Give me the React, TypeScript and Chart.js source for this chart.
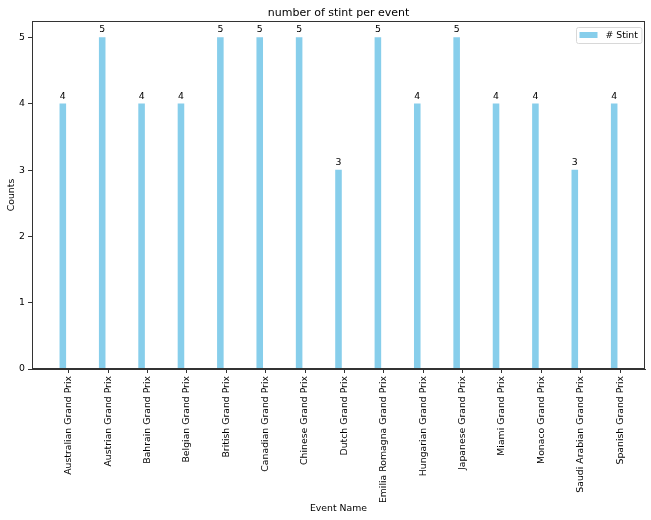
import React, { useEffect, useRef } from "react";
import { Chart, registerables } from "chart.js";

Chart.register(...registerables);

const categories = [
  "Australian Grand Prix",
  "Austrian Grand Prix",
  "Bahrain Grand Prix",
  "Belgian Grand Prix",
  "British Grand Prix",
  "Canadian Grand Prix",
  "Chinese Grand Prix",
  "Dutch Grand Prix",
  "Emilia Romagna Grand Prix",
  "Hungarian Grand Prix",
  "Japanese Grand Prix",
  "Miami Grand Prix",
  "Monaco Grand Prix",
  "Saudi Arabian Grand Prix",
  "Spanish Grand Prix",
];
const stintCounts = [4, 5, 4, 4, 5, 5, 5, 3, 5, 4, 5, 4, 4, 3, 4];
const yTicks = [0, 1, 2, 3, 4, 5];

const seriesLabel = "# Stint";
const chartTitle = "number of stint per event";
const xTitle = "Event Name";
const yTitle = "Counts";

const FONT = "'DejaVu Sans', sans-serif";
const FS = 9.3;
const BAR_COLOR = "#87CEEB";
const BAR_WIDTH_UNITS = 0.15;
const BAR_OFFSET = -0.15;

const framePlugin = {
  id: "frame",
  afterDatasetsDraw(chart: any) {
    const { ctx, chartArea } = chart;
    ctx.save();
    ctx.strokeStyle = "#333";
    ctx.lineWidth = 1;
    ctx.strokeRect(
      Math.round(chartArea.left) + 0.5,
      Math.round(chartArea.top) + 0.5,
      Math.round(chartArea.right - chartArea.left) - 1,
      Math.round(chartArea.bottom - chartArea.top) - 1
    );
    ctx.restore();
  },
};

const valueLabelPlugin = {
  id: "valueLabels",
  afterDatasetsDraw(chart: any) {
    const { ctx } = chart;
    const meta = chart.getDatasetMeta(0);
    ctx.save();
    ctx.fillStyle = "#000";
    ctx.font = `${FS}px ${FONT}`;
    ctx.textAlign = "center";
    ctx.textBaseline = "bottom";
    meta.data.forEach((el: any, i: number) => {
      ctx.fillText(String(stintCounts[i]), el.x, el.y - 3);
    });
    ctx.restore();
  },
};

const titlePlugin = {
  id: "customTitle",
  afterDraw(chart: any) {
    const { ctx, chartArea } = chart;
    ctx.save();
    ctx.fillStyle = "#000";
    ctx.font = `11px ${FONT}`;
    ctx.textAlign = "center";
    ctx.textBaseline = "alphabetic";
    ctx.fillText(chartTitle, (chartArea.left + chartArea.right) / 2, chartArea.top - 5);
    ctx.restore();
  },
};

const legendPlugin = {
  id: "customLegend",
  afterDraw(chart: any) {
    const { ctx, chartArea } = chart;
    const ds = chart.data.datasets[0];
    ctx.save();
    ctx.font = `${FS}px ${FONT}`;
    const tw = ctx.measureText(ds.label).width;
    const boxW = 3 + 18 + 8 + tw + 4;
    const boxH = 16;
    const x1 = chartArea.right - 4 - boxW;
    const y1 = chartArea.top + 6;
    ctx.fillStyle = "rgba(255,255,255,0.8)";
    ctx.strokeStyle = "#d8d8d8";
    ctx.lineWidth = 1;
    ctx.beginPath();
    const r = 2;
    const x = Math.round(x1) + 0.5;
    const y = Math.round(y1) + 0.5;
    ctx.moveTo(x + r, y);
    ctx.lineTo(x + boxW - r, y);
    ctx.quadraticCurveTo(x + boxW, y, x + boxW, y + r);
    ctx.lineTo(x + boxW, y + boxH - r);
    ctx.quadraticCurveTo(x + boxW, y + boxH, x + boxW - r, y + boxH);
    ctx.lineTo(x + r, y + boxH);
    ctx.quadraticCurveTo(x, y + boxH, x, y + boxH - r);
    ctx.lineTo(x, y + r);
    ctx.quadraticCurveTo(x, y, x + r, y);
    ctx.closePath();
    ctx.fill();
    ctx.stroke();
    ctx.fillStyle = ds.backgroundColor;
    ctx.fillRect(x + 3, y + 4.5, 18, 6);
    ctx.fillStyle = "#000";
    ctx.textAlign = "left";
    ctx.textBaseline = "middle";
    ctx.fillText(ds.label, x + 3 + 18 + 8, y + boxH / 2 + 0.5);
    ctx.restore();
  },
};

function App() {
  const ref = useRef<HTMLCanvasElement | null>(null);

  useEffect(() => {
    if (!ref.current) return;
    const n = categories.length;
    const dataMin = 0 + BAR_OFFSET - BAR_WIDTH_UNITS / 2;
    const dataMax = n - 1 + BAR_OFFSET + BAR_WIDTH_UNITS / 2;
    const margin = (dataMax - dataMin) * 0.05;
    const xMin = dataMin - margin;
    const xMax = dataMax + margin;
    const plotWidth = 613;
    const barPx = (BAR_WIDTH_UNITS * plotWidth) / (xMax - xMin);

    const chart = new Chart(ref.current, {
      type: "bar",
      data: {
        datasets: [
          {
            label: seriesLabel,
            data: stintCounts.map((v, i) => ({ x: i + BAR_OFFSET, y: v })),
            backgroundColor: BAR_COLOR,
            borderWidth: 0,
            barThickness: barPx,
          } as any,
        ],
      },
      options: {
        responsive: false,
        animation: false,
        layout: { padding: { left: 0, right: 6, top: 21, bottom: 0 } },
        plugins: {
          legend: { display: false },
          title: { display: false },
          tooltip: { enabled: false },
        },
        scales: {
          x: {
            type: "linear",
            min: xMin,
            max: xMax,
            offset: false,
            afterBuildTicks: (scale: any) => {
              scale.ticks = categories.map((_, i) => ({ value: i }));
            },
            afterFit: (scale: any) => {
              scale.height = 151;
            },
            ticks: {
              autoSkip: false,
              minRotation: 90,
              maxRotation: 90,
              padding: 3,
              color: "#000",
              font: { family: FONT, size: FS },
              callback: (v: any) => categories[Math.round(Number(v))] ?? "",
            },
            grid: {
              display: true,
              offset: false,
              drawOnChartArea: false,
              tickLength: 4,
              color: "#333",
            },
            border: { display: true, color: "#333" },
            title: {
              display: true,
              text: xTitle,
              color: "#000",
              font: { family: FONT, size: FS },
              padding: { top: 0, bottom: 6 },
            },
          },
          y: {
            min: 0,
            max: 5.25,
            afterBuildTicks: (scale: any) => {
              scale.ticks = yTicks.map((v) => ({ value: v }));
            },
            afterFit: (scale: any) => {
              scale.width = 32;
            },
            ticks: {
              padding: 3,
              color: "#000",
              font: { family: FONT, size: FS },
              callback: (v: any) => String(v),
            },
            grid: {
              display: true,
              drawOnChartArea: false,
              tickLength: 4,
              color: "#333",
            },
            border: { display: true, color: "#333" },
            title: {
              display: true,
              text: yTitle,
              color: "#000",
              font: { family: FONT, size: FS },
              padding: { top: 6, bottom: 0 },
            },
          },
        },
      },
      plugins: [framePlugin, valueLabelPlugin, titlePlugin, legendPlugin],
    });
    return () => chart.destroy();
  }, []);

  return (
    <div style={{ position: "fixed", left: 0, top: 0, width: 651, height: 520, background: "#fff" }}>
      <canvas ref={ref} width={651} height={520} />
    </div>
  );
}

export default App;
